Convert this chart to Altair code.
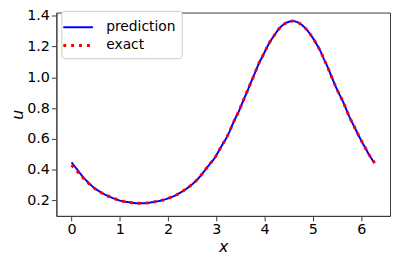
import altair as alt
import pandas as pd

x_vals = [0.0, 0.115, 0.223, 0.338, 0.453, 0.587, 0.737, 0.89, 1.047, 1.21,
          1.37, 1.53, 1.69, 1.856, 2.018, 2.17, 2.3, 2.44, 2.56, 2.665,
          2.767, 2.868, 2.964, 3.04, 3.12, 3.2, 3.27, 3.33, 3.40, 3.47,
          3.53, 3.59, 3.65, 3.71, 3.77, 3.83, 3.89, 3.96, 4.036, 4.11,
          4.2, 4.285, 4.39, 4.52, 4.58, 4.70, 4.826, 4.93, 5.02, 5.10,
          5.17, 5.23, 5.30, 5.36, 5.42, 5.48, 5.55, 5.62, 5.68, 5.74,
          5.81, 5.88, 5.95, 6.02, 6.095, 6.17, 6.26, 6.283]

u_exact = [0.43, 0.39, 0.352, 0.316, 0.284, 0.256, 0.232, 0.212, 0.196, 0.188,
           0.182, 0.183, 0.19, 0.2, 0.216, 0.236, 0.26, 0.29, 0.322, 0.357,
           0.398, 0.438, 0.476, 0.516, 0.56, 0.602, 0.646, 0.69, 0.738, 0.782,
           0.828, 0.872, 0.916, 0.962, 1.006, 1.052, 1.096, 1.138, 1.186, 1.23,
           1.272, 1.31, 1.342, 1.362, 1.365, 1.354, 1.324, 1.286, 1.244, 1.202,
           1.16, 1.116, 1.07, 1.024, 0.978, 0.934, 0.888, 0.844, 0.80, 0.754,
           0.708, 0.664, 0.62, 0.578, 0.536, 0.494, 0.452, 0.44]

u_pred = [0.447, 0.402, 0.359, 0.32, 0.286, 0.257, 0.232, 0.212, 0.196, 0.188,
          0.182, 0.183, 0.19, 0.2, 0.216, 0.236, 0.26, 0.29, 0.322, 0.357,
          0.398, 0.438, 0.476, 0.516, 0.56, 0.602, 0.646, 0.69, 0.738, 0.782,
          0.828, 0.872, 0.916, 0.962, 1.006, 1.052, 1.096, 1.138, 1.186, 1.23,
          1.272, 1.31, 1.342, 1.362, 1.365, 1.354, 1.324, 1.286, 1.244, 1.202,
          1.16, 1.116, 1.07, 1.024, 0.978, 0.934, 0.888, 0.844, 0.80, 0.754,
          0.708, 0.664, 0.62, 0.578, 0.536, 0.494, 0.452, 0.445]

series = ["prediction", "exact"]
x_ticks = [0, 1, 2, 3, 4, 5, 6]
y_ticks = [0.2, 0.4, 0.6, 0.8, 1.0, 1.2, 1.4]

rows = []
for xv, up in zip(x_vals, u_pred):
    rows.append({"x": xv, "u": up, "series": "prediction", "order": 0})
for xv, ue in zip(x_vals, u_exact):
    rows.append({"x": xv, "u": ue, "series": "exact", "order": 1})
df = pd.DataFrame(rows)

FRAME = "#3a3a3a"


def make_legend():
    return alt.Legend(title=None, orient="none", legendX=5, legendY=-1.7,
                      symbolType="M-1.5,0H1.5", symbolSize=400,
                      labelFontSize=14, labelOffset=17,
                      padding=5.5, rowPadding=0,
                      strokeColor="#cccccc", fillColor="#ffffff",
                      cornerRadius=3, labelColor="#000000")


chart = alt.Chart(df).mark_line(interpolate="monotone", clip=True).encode(
    x=alt.X("x:Q",
            scale=alt.Scale(domain=[-0.314, 6.597], nice=False, zero=False),
            axis=alt.Axis(values=x_ticks, format="d", title="x",
                          titleFontStyle="italic", titleFontSize=16,
                          titleFontWeight="normal", titleY=36,
                          titleBaseline="alphabetic",
                          labelPadding=2)),
    y=alt.Y("u:Q",
            scale=alt.Scale(domain=[0.1, 1.42], nice=False, zero=False),
            axis=alt.Axis(values=y_ticks, format=".1f", title="u",
                          titleFontStyle="italic", titleFontSize=16,
                          titleFontWeight="normal", titleX=-34, titleY=103,
                          titleBaseline="alphabetic", titleAngle=270,
                          labelPadding=2)),
    color=alt.Color("series:N",
                    scale=alt.Scale(domain=series, range=["#0000ff", "#ff0000"]),
                    legend=make_legend()),
    strokeDash=alt.StrokeDash("series:N",
                              scale=alt.Scale(domain=series, range=[[1, 0], [3, 5]]),
                              legend=make_legend()),
    strokeWidth=alt.StrokeWidth("series:N",
                                scale=alt.Scale(domain=series, range=[2, 3]),
                                legend=make_legend()),
    order=alt.Order("order:Q"),
).properties(
    width=338, height=206,
    autosize=alt.AutoSizeParams(type="none"),
    padding={"left": 49, "top": 3, "right": 1, "bottom": 39},
).configure(
    font="DejaVu Sans",
).configure_view(
    stroke=FRAME, strokeWidth=1,
).configure_axis(
    grid=False, domainColor=FRAME, tickColor=FRAME, tickSize=5,
    labelFontSize=14.5, labelColor="#000000", titleColor="#000000",
    labelFont="DejaVu Sans", titleFont="DejaVu Sans",
)

chart.save("out.html", embed_options={"renderer": "svg", "actions": False})
